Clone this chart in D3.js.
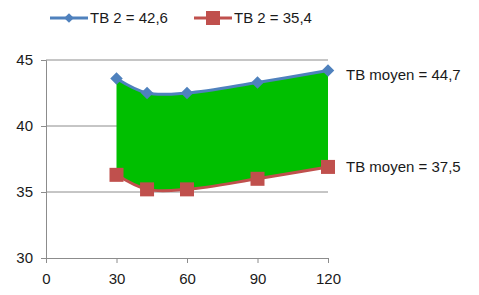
<!DOCTYPE html>
<html>
<head>
<meta charset="utf-8">
<script src="https://cdn.jsdelivr.net/npm/d3@7"></script>
<style>
  body { margin: 0; background: #fff; }
  text { font-family: "Liberation Sans", Arial, sans-serif; fill: #1a1a1a; }
</style>
</head>
<body>
<svg id="chart" width="479" height="295"></svg>
<script>
// values
const times = [30, 43, 60, 90, 120];
const blueValues = [43.6, 42.5, 42.5, 43.3, 44.2];
const redValues = [36.3, 35.2, 35.2, 36.0, 36.9];
const xTicks = [0, 30, 60, 90, 120];
const yTicks = [30, 35, 40, 45];
const legendLabels = ['TB 2 = 42,6', 'TB 2 = 35,4'];
const sideLabels = ['TB moyen = 44,7', 'TB moyen = 37,5'];

const blue = '#4f81bd', red = '#c0504d', green = '#00bf00', grid = '#8c8c8c';

const margin = { top: 60, left: 46, right: 151, bottom: 37 };
const width = 479 - margin.left - margin.right;
const height = 295 - margin.top - margin.bottom;

const svg = d3.select('#chart');
const chart = svg.append('g').attr('transform', `translate(${margin.left},${margin.top})`);

const x = d3.scaleLinear().domain([0, 120]).range([0, width]);
const y = d3.scaleLinear().domain([30, 45]).range([height, 0]);

// horizontal gridlines
chart.selectAll('.grid')
  .data(yTicks.filter(d => d > 30))
  .join('line')
  .attr('x1', 0).attr('x2', width)
  .attr('y1', d => y(d)).attr('y2', d => y(d))
  .attr('stroke', grid).attr('stroke-width', 1);

// axes
const yAxis = d3.axisLeft(y).tickValues(yTicks).tickSize(5).tickPadding(8);
const xAxis = d3.axisBottom(x).tickValues(xTicks).tickSize(5).tickPadding(10);

const yG = chart.append('g').call(yAxis);
const xG = chart.append('g').attr('transform', `translate(0,${height})`).call(xAxis);
[yG, xG].forEach(g => {
  g.selectAll('path, line').attr('stroke', grid);
  g.selectAll('text').style('font-size', '15px').attr('fill', '#1a1a1a');
});

const rows = times.map((t, i) => ({ t, hi: blueValues[i], lo: redValues[i] }));
const curve = d3.curveCatmullRom.alpha(0.5);

// green band between the two series
chart.append('path')
  .datum(rows)
  .attr('fill', green)
  .attr('d', d3.area().curve(curve).x(d => x(d.t)).y0(d => y(d.lo)).y1(d => y(d.hi)));

const blueLine = d3.line().curve(curve).x(d => x(d.t)).y(d => y(d.hi));
const redLine = d3.line().curve(curve).x(d => x(d.t)).y(d => y(d.lo));

chart.append('path').datum(rows).attr('fill', 'none').attr('stroke', blue).attr('stroke-width', 3).attr('d', blueLine);
chart.append('path').datum(rows).attr('fill', 'none').attr('stroke', red).attr('stroke-width', 3).attr('d', redLine);

const diamond = d3.symbol().type(d3.symbolDiamond2).size(100);
chart.selectAll('.dia')
  .data(rows)
  .join('path')
  .attr('transform', d => `translate(${x(d.t)},${y(d.hi)})`)
  .attr('d', diamond)
  .attr('fill', blue);

chart.selectAll('.sq')
  .data(rows)
  .join('rect')
  .attr('x', d => x(d.t) - 7).attr('y', d => y(d.lo) - 7)
  .attr('width', 14).attr('height', 14)
  .attr('fill', red);

// labels to the right of the last points
chart.selectAll('.side')
  .data([blueValues[4], redValues[4]])
  .join('text')
  .attr('x', width + 18)
  .attr('y', (d, i) => y(d) + (i === 0 ? 4 : 0))
  .attr('dy', '0.35em')
  .style('font-size', '15px')
  .text((d, i) => sideLabels[i]);

// legend
const legend = svg.append('g').attr('transform', 'translate(50,18)');
const items = legend.selectAll('g')
  .data(legendLabels)
  .join('g')
  .attr('transform', (d, i) => `translate(${i * 144},0)`);
items.append('line')
  .attr('x1', 0).attr('x2', 38)
  .attr('stroke', (d, i) => i === 0 ? blue : red)
  .attr('stroke-width', 3);
items.filter((d, i) => i === 0).append('path')
  .attr('transform', 'translate(19,0)')
  .attr('d', d3.symbol().type(d3.symbolDiamond2).size(60))
  .attr('fill', blue);
items.filter((d, i) => i === 1).append('rect')
  .attr('x', 12).attr('y', -7).attr('width', 14).attr('height', 14)
  .attr('fill', red);
items.append('text')
  .attr('x', 40).attr('dy', '0.35em')
  .style('font-size', '15px')
  .text(d => d);
</script>
</body>
</html>
